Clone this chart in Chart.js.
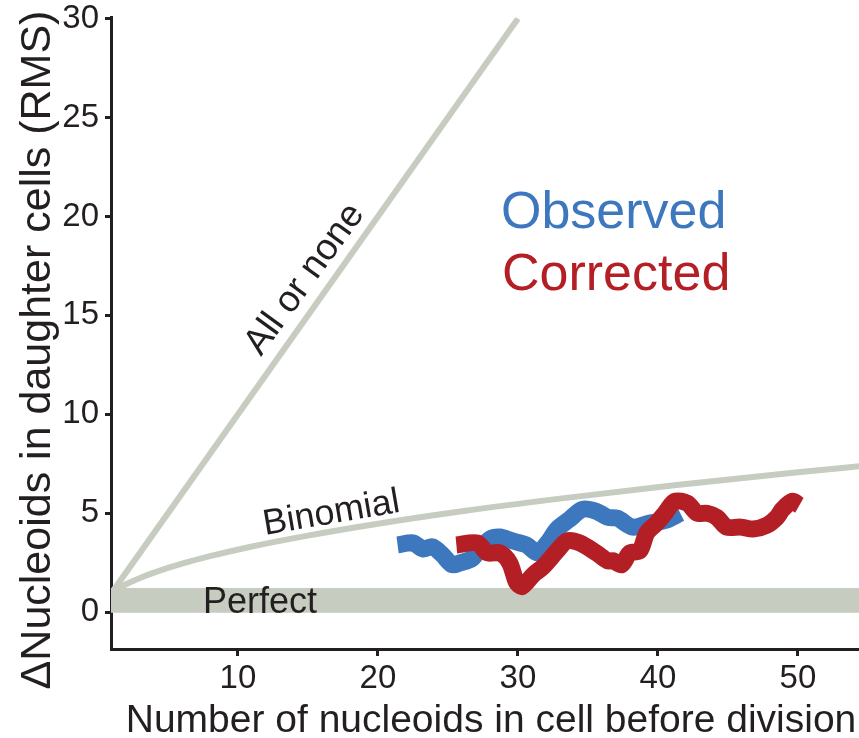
<!DOCTYPE html>
<html>
<head>
<meta charset="utf-8">
<script src="https://cdn.jsdelivr.net/npm/chart.js@4.4.0/dist/chart.umd.min.js"></script>
<style>
    body { margin: 0; background: #fff; }
    #wrap { width: 859px; height: 738px; }
</style>
</head>
<body>
<div id="wrap"><canvas id="nucleoidChart"></canvas></div>
<script>
// Values
const xTicks = [10, 20, 30, 40, 50];
const yTicks = [0, 5, 10, 15, 20, 25, 30];

const observedX = [21.4, 22.5, 23.2, 23.9, 24.6, 25.3, 25.9, 26.7, 27.3, 28.0, 28.7, 29.6, 30.6, 31.4, 32.1, 32.8, 33.7, 34.6, 35.6, 36.4, 37.1, 38.2, 39.4, 40.6, 41.6];
const observedY = [3.4, 3.5, 3.2, 3.3, 2.9, 2.4, 2.5, 2.7, 3.2, 3.7, 3.8, 3.6, 3.4, 3.0, 3.5, 4.2, 4.7, 5.2, 5.1, 4.8, 4.75, 4.3, 4.5, 4.65, 5.0];

const correctedX = [25.6, 27.1, 27.8, 28.7, 29.4, 29.9, 30.3, 31.1, 31.8, 32.8, 33.5, 34.4, 35.6, 36.4, 36.8, 37.4, 38.0, 38.7, 39.2, 39.9, 40.5, 41.2, 42.1, 42.8, 43.5, 44.2, 44.9, 45.9, 46.8, 47.8, 48.5, 48.9, 49.6, 50.1];
const correctedY = [3.4, 3.5, 3.0, 3.0, 2.5, 1.5, 1.3, 1.9, 2.3, 3.1, 3.6, 3.5, 3.0, 2.6, 2.6, 2.4, 3.0, 3.1, 4.0, 4.5, 5.0, 5.6, 5.5, 5.0, 5.0, 4.8, 4.3, 4.3, 4.2, 4.4, 4.8, 5.2, 5.6, 5.4];

// model curves
const allOrNoneX = [1, 30];
const allOrNoneY = [1, 30];
const binomialX = [1, 1.5, 2, 3, 4, 6, 8, 11, 15, 20, 26, 33, 41, 50, 55];
const binomialY = [1, 1.22, 1.41, 1.73, 2, 2.45, 2.83, 3.32, 3.87, 4.47, 5.10, 5.74, 6.40, 7.07, 7.42];
const perfectX = [0.8, 55];
const perfectLow = [0, 0];
const perfectHigh = [1.2, 1.2];

const toPoints = (xs, ys) => xs.map((x, i) => ({ x: x, y: ys[i] }));

const FONT = 'Liberation Sans, Arial, Helvetica, sans-serif';
const INK = '#231f20';
const GREY = '#c7ccc1';
const BLUE = '#3d78bf';
const RED = '#b41f26';

// titles and in-plot labels
const labelPlugin = {
    id: 'labels',
    afterDraw(chart) {
        const ctx = chart.ctx;
        ctx.save();
        ctx.fillStyle = INK;
        ctx.textBaseline = 'alphabetic';

        // axis titles
        ctx.font = '39px ' + FONT;
        ctx.textAlign = 'center';
        ctx.fillText('Number of nucleoids in cell before division', 491, 732);

        ctx.save();
        ctx.translate(50, 350);
        ctx.rotate(-Math.PI / 2);
        ctx.font = '43px ' + FONT;
        ctx.fillText('\u0394Nucleoids in daughter cells (RMS)', 0, 0);
        ctx.restore();

        // curve names
        ctx.textAlign = 'left';
        ctx.font = '36px ' + FONT;
        ctx.fillText('Perfect', 203, 613);

        ctx.save();
        ctx.translate(265, 535);
        ctx.rotate(-9.7 * Math.PI / 180);
        ctx.fillText('Binomial', 0, 0);
        ctx.restore();

        ctx.save();
        ctx.translate(261, 357);
        ctx.rotate(-54 * Math.PI / 180);
        ctx.font = '37px ' + FONT;
        ctx.fillText('All or none', 0, 0);
        ctx.restore();

        // legend words
        ctx.font = '52px ' + FONT;
        ctx.fillStyle = BLUE;
        ctx.fillText('Observed', 501, 228);
        ctx.fillStyle = RED;
        ctx.fillText('Corrected', 502, 290);

        ctx.restore();
    }
};

const ctx = document.getElementById('nucleoidChart').getContext('2d');

const chart = new Chart(ctx, {
    type: 'scatter',
    data: {
        datasets: [
            {
                label: 'Corrected',
                data: toPoints(correctedX, correctedY),
                showLine: true,
                borderColor: RED,
                borderWidth: 17,
                borderJoinStyle: 'round',
                borderCapStyle: 'butt',
                pointRadius: 0,
                tension: 0.3
            },
            {
                label: 'Observed',
                data: toPoints(observedX, observedY),
                showLine: true,
                borderColor: BLUE,
                borderWidth: 17,
                borderJoinStyle: 'round',
                borderCapStyle: 'butt',
                pointRadius: 0,
                tension: 0.3
            },
            {
                label: 'All or none',
                data: toPoints(allOrNoneX, allOrNoneY),
                showLine: true,
                borderColor: GREY,
                borderWidth: 6,
                pointRadius: 0
            },
            {
                label: 'Binomial',
                data: toPoints(binomialX, binomialY),
                showLine: true,
                borderColor: GREY,
                borderWidth: 6,
                pointRadius: 0,
                cubicInterpolationMode: 'monotone'
            },
            {
                label: 'Perfect low',
                data: toPoints(perfectX, perfectLow),
                showLine: true,
                borderColor: GREY,
                borderWidth: 1,
                pointRadius: 0
            },
            {
                label: 'Perfect',
                data: toPoints(perfectX, perfectHigh),
                showLine: true,
                borderColor: GREY,
                backgroundColor: GREY,
                borderWidth: 1,
                pointRadius: 0,
                fill: '-1'
            }
        ]
    },
    options: {
        responsive: true,
        maintainAspectRatio: false,
        animation: false,
        layout: {
            padding: { top: 0, right: 0, left: 0, bottom: 0 }
        },
        plugins: {
            legend: { display: false },
            title: { display: false },
            tooltip: { enabled: false }
        },
        scales: {
            x: {
                type: 'linear',
                min: 0.93,
                max: 54.36,
                afterBuildTicks: scale => {
                    scale.ticks = xTicks.map(v => ({ value: v }));
                },
                afterFit: scale => {
                    scale.height = 89;
                },
                ticks: {
                    color: INK,
                    font: { family: FONT, size: 33, lineHeight: 1 },
                    padding: 6,
                    maxRotation: 0
                },
                grid: {
                    drawOnChartArea: false,
                    tickLength: 7,
                    tickWidth: 3,
                    tickColor: INK
                },
                border: { color: INK, width: 3 }
            },
            y: {
                min: -1.86,
                max: 30.05,
                afterBuildTicks: scale => {
                    scale.ticks = yTicks.map(v => ({ value: v }));
                },
                afterFit: scale => {
                    scale.width = 111;
                },
                ticks: {
                    color: INK,
                    font: { family: FONT, size: 33, lineHeight: 0.7 },
                    padding: 6
                },
                grid: {
                    drawOnChartArea: false,
                    tickLength: 6,
                    tickWidth: 3,
                    tickColor: INK
                },
                border: { color: INK, width: 3 }
            }
        }
    },
    plugins: [labelPlugin]
});
</script>
</body>
</html>
